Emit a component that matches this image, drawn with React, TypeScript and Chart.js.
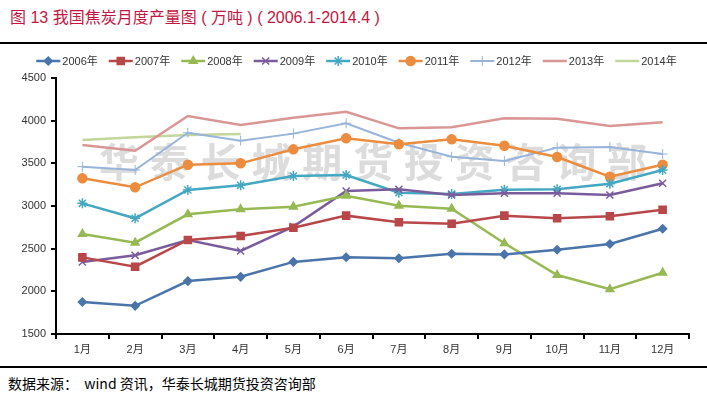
import React, { useEffect, useRef } from 'react';
import { Chart, registerables } from 'chart.js';
import { drawPoint } from 'chart.js/helpers';

Chart.register(...registerables);

const categories = ['1月', '2月', '3月', '4月', '5月', '6月', '7月', '8月', '9月', '10月', '11月', '12月'];
const seriesLabels = ['2006年', '2007年', '2008年', '2009年', '2010年', '2011年', '2012年', '2013年', '2014年'];

const s2006 = [1875, 1830, 2120, 2170, 2345, 2400, 2387, 2441, 2433, 2488, 2555, 2734];
const s2007 = [2398, 2289, 2602, 2648, 2746, 2887, 2809, 2793, 2887, 2856, 2879, 2957];
const s2008 = [2672, 2570, 2903, 2961, 2992, 3121, 3004, 2969, 2563, 2191, 2024, 2218];
const s2009 = [2344, 2422, 2602, 2473, 2758, 3176, 3195, 3129, 3149, 3149, 3129, 3266];
const s2010 = [3031, 2856, 3188, 3242, 3352, 3363, 3156, 3141, 3191, 3195, 3262, 3422];
const s2011 = [3324, 3219, 3484, 3500, 3664, 3793, 3723, 3781, 3707, 3574, 3344, 3484];
const s2012 = [3461, 3422, 3859, 3766, 3848, 3969, 3742, 3578, 3527, 3684, 3691, 3609];
const s2013 = [3715, 3648, 4055, 3949, 4035, 4105, 3910, 3922, 4027, 4023, 3938, 3981];
const s2014 = [3773, 3805, 3832, 3844];

const seriesValues = [s2006, s2007, s2008, s2009, s2010, s2011, s2012, s2013, s2014];
const seriesColors = ['#4a74aa', '#b8474a', '#97b954', '#7a5c9c', '#45a8c2', '#ec8c3e', '#98b4d8', '#d99694', '#c3d69b'];
const seriesMarkers = ['rectRot', 'rect', 'triangle', 'crossRot', 'star', 'circle', 'cross', false, false];
const seriesRadius = [4, 5, 4.5, 5, 5, 4.5, 5, 0, 0];

const yMin = 1500;
const yMax = 4500;
const yStep = 500;

const watermarkText = '华泰长城期货投资咨询部';
const titleText = '图 13 我国焦炭月度产量图 ( 万吨 ) ( 2006.1-2014.4 )';
const sourceText = '数据来源：  wind 资讯，华泰长城期货投资咨询部';

const FONT = '"Liberation Sans", "Noto Sans CJK SC", sans-serif';

const watermarkPlugin = {
  id: 'watermark',
  beforeDatasetsDraw(chart: any) {
    const ctx = chart.ctx;
    ctx.save();
    ctx.font = 'bold 40px "Noto Sans CJK SC", sans-serif';
    ctx.fillStyle = '#dcdcdc';
    ctx.textBaseline = 'middle';
    ctx.textAlign = 'left';
    const chars = Array.from(watermarkText);
    chars.forEach((c, i) => {
      ctx.fillText(c, 99 + i * 50.8, 118);
    });
    ctx.restore();
  },
};

const legendPlugin = {
  id: 'lineLegend',
  afterDraw(chart: any) {
    const ctx = chart.ctx;
    ctx.save();
    ctx.font = '11px ' + FONT;
    const lineLen = 24;
    const gapText = 2;
    const gapItem = 11;
    const dsets = chart.data.datasets;
    const widths = dsets.map((ds: any) => lineLen + gapText + ctx.measureText(ds.label).width);
    const total = widths.reduce((a: number, b: number) => a + b, 0) + gapItem * (dsets.length - 1);
    let x = (chart.width - total) / 2 + 3;
    const y = 17;
    dsets.forEach((ds: any, i: number) => {
      ctx.strokeStyle = ds.borderColor;
      ctx.lineWidth = ds.borderWidth;
      ctx.beginPath();
      ctx.moveTo(x, y);
      ctx.lineTo(x + lineLen, y);
      ctx.stroke();
      if (ds.pointStyle) {
        ctx.fillStyle = ds.pointBackgroundColor;
        ctx.strokeStyle = ds.pointBorderColor;
        ctx.lineWidth = ds.pointBorderWidth;
        drawPoint(ctx, { pointStyle: ds.pointStyle, radius: ds.pointRadius, rotation: 0, borderWidth: ds.pointBorderWidth }, x + lineLen / 2, y);
      }
      ctx.fillStyle = '#333';
      ctx.textBaseline = 'middle';
      ctx.textAlign = 'left';
      ctx.fillText(ds.label, x + lineLen + gapText, y + 1);
      x += widths[i] + gapItem;
    });
    ctx.restore();
  },
};

export default function App() {
  const canvasRef = useRef<HTMLCanvasElement | null>(null);

  useEffect(() => {
    if (!canvasRef.current) return;
    const datasets = seriesLabels.map((label, i) => ({
      label,
      data: seriesValues[i],
      borderColor: seriesColors[i],
      backgroundColor: seriesColors[i],
      borderWidth: i === 6 ? 2 : 2.5,
      pointStyle: seriesMarkers[i] as any,
      pointRadius: seriesRadius[i],
      pointHoverRadius: seriesRadius[i],
      pointBackgroundColor: seriesColors[i],
      pointBorderColor: seriesColors[i],
      pointBorderWidth: seriesMarkers[i] === 'cross' ? 1 : 1.5,
      tension: 0,
      fill: false,
    }));
    const chart = new Chart(canvasRef.current, {
      type: 'line',
      data: { labels: categories, datasets },
      options: {
        animation: false,
        responsive: false,
        maintainAspectRatio: false,
        devicePixelRatio: 1,
        layout: { padding: { left: 0, right: 18, top: 34, bottom: 0 } },
        plugins: {
          legend: { display: false },
          title: { display: false },
          tooltip: { enabled: false },
        },
        scales: {
          x: {
            type: 'category',
            offset: true,
            grid: { display: true, offset: true, drawOnChartArea: false, drawTicks: true, tickLength: 5, color: '#000', lineWidth: 2 },
            border: { display: true, color: '#000', width: 2 },
            ticks: { color: '#333', font: { family: FONT, size: 11 }, padding: 4, maxRotation: 0, autoSkip: false },
            afterFit: (scale: any) => { scale.height = 32; },
          },
          y: {
            min: yMin,
            max: yMax,
            grid: { display: true, drawOnChartArea: false, drawTicks: true, tickLength: 5, color: '#000', lineWidth: 2 },
            border: { display: true, color: '#000', width: 2 },
            ticks: { stepSize: yStep, color: '#333', font: { family: FONT, size: 11 }, padding: 5, callback: (v: any) => String(v) },
            afterFit: (scale: any) => { scale.width = 56; },
          },
        },
      },
      plugins: [watermarkPlugin, legendPlugin],
    });
    return () => chart.destroy();
  }, []);

  return (
    <div style={{ position: 'absolute', left: 0, top: 0, width: 707, height: 396, background: '#fff', overflow: 'hidden' }}>
      <div style={{ position: 'absolute', left: 10, top: 8, fontSize: 16, lineHeight: '20px', color: '#c4163f', fontFamily: '"Liberation Sans", "Noto Sans CJK SC", sans-serif', whiteSpace: 'pre' }}>
        {titleText}
      </div>
      <div style={{ position: 'absolute', left: 0, top: 42, width: 707, height: 2, background: '#000' }} />
      <canvas ref={canvasRef} width={707} height={322} style={{ position: 'absolute', left: 0, top: 44, width: 707, height: 322 }} />
      <div style={{ position: 'absolute', left: 0, top: 366, width: 707, height: 2, background: '#000' }} />
      <div style={{ position: 'absolute', left: 8, top: 373, fontSize: 14, lineHeight: '20px', color: '#000', fontFamily: '"Noto Sans CJK SC", sans-serif', whiteSpace: 'pre' }}>
        {sourceText}
      </div>
    </div>
  );
}
